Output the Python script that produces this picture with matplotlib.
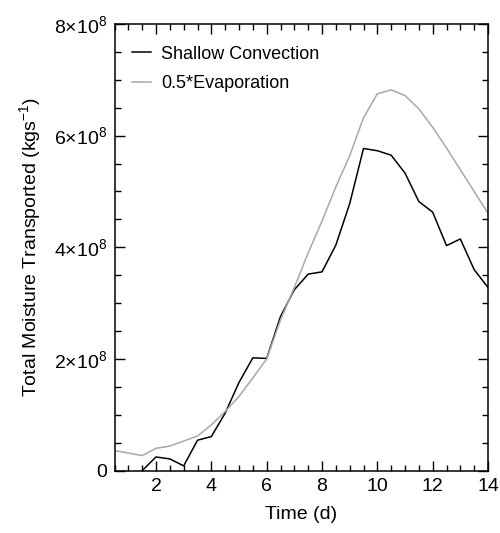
import matplotlib
matplotlib.use("Agg")
import matplotlib.pyplot as plt
from matplotlib.ticker import FuncFormatter, MultipleLocator

plt.rcParams["font.family"] = ["Liberation Sans", "DejaVu Sans"]
plt.rcParams["mathtext.fontset"] = "custom"
plt.rcParams["mathtext.rm"] = "Liberation Sans"
plt.rcParams["mathtext.it"] = "Liberation Sans:italic"

# time in days, values in units of 1e8 kg/s
time_shallow = [1.5, 2.0, 2.5, 3.0, 3.5, 4.0, 4.5, 5.0, 5.5, 6.0, 6.5, 7.0, 7.5,
                8.0, 8.5, 9.0, 9.5, 10.0, 10.5, 11.0, 11.5, 12.0, 12.5, 13.0,
                13.5, 14.0]
shallow = [0.0, 0.245, 0.21, 0.085, 0.545, 0.61, 1.03, 1.58, 2.02, 2.01, 2.76,
           3.24, 3.52, 3.56, 4.04, 4.78, 5.77, 5.73, 5.65, 5.33, 4.82, 4.63,
           4.03, 4.15, 3.6, 3.28]
time_evap = [0.5, 1.0, 1.5, 2.0, 2.5, 3.0, 3.5, 4.0, 4.5, 5.0, 5.5, 6.0, 6.5,
             7.0, 7.5, 8.0, 8.5, 9.0, 9.5, 10.0, 10.5, 11.0, 11.5, 12.0, 12.5,
             13.0, 13.5, 14.0]
evap_half = [0.36, 0.315, 0.27, 0.40, 0.44, 0.53, 0.62, 0.82, 1.06, 1.33, 1.66,
             2.0, 2.7, 3.28, 3.9, 4.47, 5.08, 5.64, 6.32, 6.75, 6.82, 6.72,
             6.48, 6.15, 5.78, 5.39, 5.0, 4.61]

fig = plt.figure(figsize=(5, 5.33), dpi=100)
ax = fig.add_axes([0.229, 0.117, 0.747, 0.838])

ax.plot(time_shallow, [v * 1e8 for v in shallow], color="black", lw=1.1,
        label="Shallow Convection")
ax.plot(time_evap, [v * 1e8 for v in evap_half], color="#a8a8a8", lw=1.1,
        label="0.5*Evaporation")

ax.set_xlim(0.5, 14)
ax.set_ylim(0, 8e8)
ax.xaxis.set_major_locator(MultipleLocator(2))
ax.xaxis.set_minor_locator(MultipleLocator(0.5))
ax.yaxis.set_major_locator(MultipleLocator(2e8))
ax.yaxis.set_minor_locator(MultipleLocator(0.5e8))


def ylab(v, pos):
    if v == 0:
        return "0"
    return "%d×10$^{8}$" % round(v / 1e8)


ax.yaxis.set_major_formatter(FuncFormatter(ylab))
ax.tick_params(which="both", direction="in", top=True, right=True,
               width=1, labelsize=14, pad=5)
ax.tick_params(which="major", length=7)
ax.tick_params(which="minor", length=4)
for s in ax.spines.values():
    s.set_linewidth(1.1)

ax.set_xlabel("Time (d)", fontsize=14, labelpad=8)
ax.set_ylabel(r"Total Moisture Transported (kgs$^{-1}$)", fontsize=14, labelpad=8)

ax.legend(loc="upper left", bbox_to_anchor=(0, 0.99), frameon=False,
          fontsize=13, handlelength=1.05, handletextpad=0.6,
          labelspacing=0.68, borderaxespad=0.55)

fig.savefig("out.png", dpi=100, facecolor="white")
